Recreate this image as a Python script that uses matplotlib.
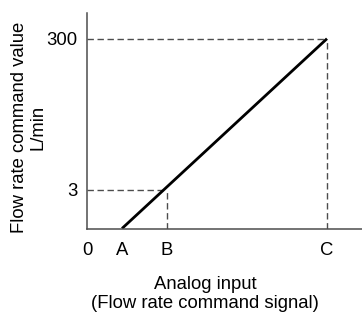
import matplotlib
matplotlib.use("Agg")
import matplotlib.pyplot as plt

# ---------------
# Data (schematic positions)
# ---------------
x_labels = ["0", "A", "B", "C"]
x_pos = [0, 35, 80, 240]
y_labels = ["3", "300"]
y_pos = [39, 190]

# characteristic line: from A (zero) up to C (300 L/min)
line_x = [35, 240]
line_y = [0, 190]

x_max = 275
y_max = 216

plt.rcParams["font.family"] = ["Liberation Sans", "DejaVu Sans"]
plt.rcParams["font.size"] = 13.3

fig = plt.figure(figsize=(3.62, 3.14), dpi=100)
ax = fig.add_axes([87 / 362, 1 - 228.5 / 314, 275 / 362, 215.8 / 314])

gray = "#4d4d4d"
dash = (4.6, 2.6)

# dashed guide lines
ax.plot([0, x_pos[2]], [y_pos[0], y_pos[0]], color=gray, lw=1.0, dashes=dash)
ax.plot([x_pos[2], x_pos[2]], [0, y_pos[0]], color=gray, lw=1.0, dashes=dash)
ax.plot([0, x_pos[3]], [y_pos[1], y_pos[1]], color=gray, lw=1.0, dashes=dash)
ax.plot([x_pos[3], x_pos[3]], [0, y_pos[1]], color=gray, lw=1.0, dashes=dash)

# main line
ax.plot(line_x, line_y, color="black", lw=2.0, solid_capstyle="butt")

ax.set_xlim(0, x_max)
ax.set_ylim(0, y_max)

ax.set_xticks(x_pos)
ax.set_xticklabels(x_labels)
ax.set_yticks(y_pos)
ax.set_yticklabels(y_labels)
ax.tick_params(axis="both", length=0, colors="black")
ax.tick_params(axis="x", pad=10)
ax.tick_params(axis="y", pad=7)
ax.get_xticklabels()[0].set_x(-2)

for s in ["top", "right"]:
    ax.spines[s].set_visible(False)
for s in ["left", "bottom"]:
    ax.spines[s].set_color(gray)
    ax.spines[s].set_linewidth(1.1)

ax.set_xlabel("Analog input\n(Flow rate command signal)", ha="center", va="center",
              linespacing=1.1)
ax.xaxis.set_label_coords((205 - 87) / 275, (228.5 - 294) / 215.8)
ax.set_ylabel("Flow rate command value\nL/min", ha="center", va="center",
              linespacing=1.1)
ax.yaxis.set_label_coords((29 - 87) / 275, (228.5 - 127) / 215.8)

fig.savefig("out.png", dpi=100)
